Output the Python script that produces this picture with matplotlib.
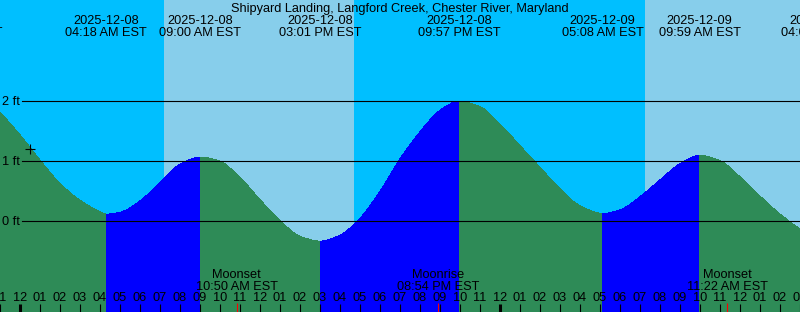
import matplotlib
matplotlib.use("Agg")
import matplotlib.pyplot as plt
from matplotlib import transforms
from matplotlib.path import Path
from matplotlib.patches import PathPatch
import numpy as np

plt.rcParams["font.family"] = ["Liberation Sans", "DejaVu Sans"]

title = "Shipyard Landing, Langford Creek, Chester River, Maryland"

# hours relative to 2025-12-08 00:00 EST, heights in ft
tide_hours = [-1, 0, 1, 2, 3, 4, 4.3, 5, 6, 7, 8, 9.0, 10, 11, 12, 13, 14, 15.017,
              16, 17, 18, 19, 20, 21, 21.95, 23, 24, 25, 26, 27, 28, 29.133,
              30, 31, 32, 33, 33.983, 35, 36, 37, 38, 39]
tide_heights = [1.82, 1.44, 1.02, 0.63, 0.35, 0.16, 0.12, 0.15, 0.34, 0.65, 0.95, 1.07,
                1.00, 0.73, 0.36, 0.01, -0.25, -0.33,
                -0.23, 0.05, 0.50, 1.04, 1.49, 1.85, 2.00, 1.91, 1.62, 1.26, 0.90, 0.54,
                0.26, 0.13,
                0.19, 0.41, 0.69, 0.96, 1.10, 1.01, 0.74, 0.42, 0.12, -0.13]

# tide extremes (labels in the header)
ext_hours = [-2.95, 4.3, 9.0, 15.017, 21.95, 29.133, 33.983, 40.1]
ext_dates = ["2025-12-07", "2025-12-08", "2025-12-08", "2025-12-08", "2025-12-08",
             "2025-12-09", "2025-12-09", "2025-12-09"]
ext_times = ["09:03 PM EST", "04:18 AM EST", "09:00 AM EST", "03:01 PM EST",
             "09:57 PM EST", "05:08 AM EST", "09:59 AM EST", "04:06 PM EST"]

# moon events
moon_hours = [10.833, 20.9, 35.367]
moon_names = ["Moonset", "Moonrise", "Moonset"]
moon_times = ["10:50 AM EST", "08:54 PM EST", "11:22 AM EST"]

# daylight (sunrise, sunset)
day_spans = [(7.2, 16.7), (31.25, 39.5)]

# "now" marker
now_hour, now_height = 0.5, 1.21

grid_levels = [0, 1, 2]
grid_labels = ["0 ft", "1 ft", "2 ft"]

hour_ticks = list(range(-1, 40))

# ---- styles / layout ----
W, H = 800, 312
NIGHT = "#00BFFF"
DAY = "#87CEEB"
EBB = "#2E8B57"
FLOOD = "#0000FF"
ZERO_PX, PX_PER_FT = 221.3, 60.0
FS = 9.2

fig = plt.figure(figsize=(W / 100, H / 100), dpi=100)
ax = fig.add_axes([0, 0, 1, 1])
ax.set_xlim(-1, 39)
YBOT = (ZERO_PX - H) / PX_PER_FT
ax.set_ylim(YBOT, ZERO_PX / PX_PER_FT)
ax.axis("off")

tpx = transforms.blended_transform_factory(ax.transData, fig.transFigure)


def fy(py):
    return 1 - py / H


# sky
ax.axvspan(-1, 39, color=NIGHT, lw=0, zorder=0)
for a, b in day_spans:
    ax.axvspan(a, b, color=DAY, lw=0, zorder=0.5)

# tide fills: smooth Bezier path through the read points (monotone Hermite tangents)
th = np.array(tide_hours, float)
hh = np.array(tide_heights, float)
dx = np.diff(th)
sec = np.diff(hh) / dx
tan = np.zeros_like(hh)
tan[0], tan[-1] = sec[0], sec[-1]
for k in range(1, len(hh) - 1):
    if sec[k - 1] * sec[k] > 0:
        w1 = 2 * dx[k] + dx[k - 1]
        w2 = dx[k] + 2 * dx[k - 1]
        tan[k] = (w1 + w2) / (w1 / sec[k - 1] + w2 / sec[k])

breaks = [-1] + [e for e in ext_hours if -1 < e < 39] + [39]
for a, b in zip(breaks[:-1], breaks[1:]):
    idx = [i for i in range(len(th)) if a - 1e-9 <= th[i] <= b + 1e-9]
    verts = [(th[idx[0]], YBOT), (th[idx[0]], hh[idx[0]])]
    codes = [Path.MOVETO, Path.LINETO]
    for i, j in zip(idx[:-1], idx[1:]):
        d = th[j] - th[i]
        verts += [(th[i] + d / 3, hh[i] + tan[i] * d / 3),
                  (th[j] - d / 3, hh[j] - tan[j] * d / 3),
                  (th[j], hh[j])]
        codes += [Path.CURVE4] * 3
    verts += [(th[idx[-1]], YBOT), (th[idx[0]], YBOT)]
    codes += [Path.LINETO, Path.CLOSEPOLY]
    rising = hh[idx[-1]] > hh[idx[0]]
    ax.add_patch(PathPatch(Path(verts, codes), facecolor=FLOOD if rising else EBB,
                           lw=0, antialiased=False, zorder=1))

# grid lines and labels
for lv, lab in zip(grid_levels, grid_labels):
    ax.axhline(lv, xmin=22 / W, xmax=1, color="black", lw=0.8, zorder=2)
    ax.text(-1 + 19.5 / 20, lv - 3.7 / PX_PER_FT, lab, ha="right", va="baseline",
            fontsize=FS, color="black", zorder=3)

# now marker
ax.plot([now_hour], [now_height], marker="+", ms=7, mew=0.8, color="black", zorder=3)

# header
fig.text(0.5, fy(12), title, ha="center", va="baseline", fontsize=FS, color="black")
for hr, d, t in zip(ext_hours, ext_dates, ext_times):
    ax.text(hr, fy(24), d, transform=tpx, ha="center", va="baseline", fontsize=FS,
            clip_on=False, zorder=3)
    ax.text(hr, fy(36), t, transform=tpx, ha="center", va="baseline", fontsize=FS,
            clip_on=False, zorder=3)

# moon labels
for hr, n, t in zip(moon_hours, moon_names, moon_times):
    ax.text(hr, fy(278), n, transform=tpx, ha="center", va="baseline", fontsize=FS, zorder=3)
    ax.text(hr, fy(289.5), t, transform=tpx, ha="center", va="baseline", fontsize=FS, zorder=3)

# hour labels and ticks
for hr in hour_ticks:
    lab = "%02d" % ((hr % 12) or 12)
    ax.text(hr, fy(301), lab, transform=tpx, ha="center", va="baseline", fontsize=FS,
            zorder=3)
    mid = hr % 24 == 0
    ax.plot([hr, hr], [fy(304), fy(312.5)], transform=tpx, color="black",
            lw=2.2 if mid else 0.8, solid_capstyle="butt", zorder=3)
for hr in moon_hours:
    ax.plot([hr, hr], [fy(303), fy(312.5)], transform=tpx, color="red", lw=0.8,
            solid_capstyle="butt", zorder=3)

fig.savefig("out.png", dpi=100)
